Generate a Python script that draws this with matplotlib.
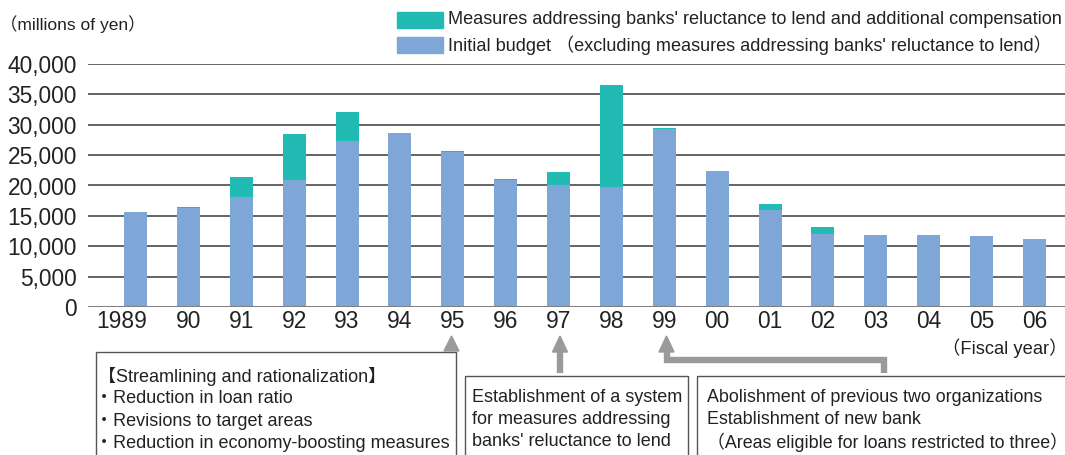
import matplotlib
matplotlib.use("Agg")
import matplotlib.pyplot as plt
from matplotlib.patches import Rectangle, Polygon
from matplotlib.lines import Line2D

# ---- data (millions of yen) ----
years = ["1989", "90", "91", "92", "93", "94", "95", "96", "97",
         "98", "99", "00", "01", "02", "03", "04", "05", "06"]
initial_budget = [15600, 16300, 18100, 20900, 27350, 28650, 25500, 20900, 20100,
                  19750, 29300, 22400, 15950, 12000, 11850, 11850, 11650, 11150]
reluctance = [0, 150, 3300, 7600, 4800, 0, 200, 150, 2150,
              16850, 200, 0, 1000, 1150, 0, 0, 0, 0]
yticks = [0, 5000, 10000, 15000, 20000, 25000, 30000, 35000, 40000]

label_teal = "Measures addressing banks' reluctance to lend and additional compensation"
label_blue = "Initial budget （excluding measures addressing banks' reluctance to lend）"

box1_lines = ["【Streamlining and rationalization】",
              "・Reduction in loan ratio",
              "・Revisions to target areas",
              "・Reduction in economy-boosting measures"]
box2_lines = ["Establishment of a system",
              "for measures addressing",
              "banks' reluctance to lend"]
box3_lines = ["Abolishment of previous two organizations",
              "Establishment of new bank",
              "（Areas eligible for loans restricted to three）"]

teal = "#22BBB4"
blue = "#7EA7D8"
arrow_grey = "#9A9A9C"
txt = "#222222"
FONT = ["Liberation Sans", "Noto Sans CJK JP", "DejaVu Sans"]
plt.rcParams["font.family"] = FONT

W, H = 1065, 455
fig = plt.figure(figsize=(W / 100, H / 100), dpi=100)


def px(x, y):
    # pixel coords (top-left origin) -> figure fraction
    return x / W, 1 - y / H


# axes placed so the gridlines span 64..307 px
ax = fig.add_axes([88 / W, 1 - 307 / H, (W - 88) / W, (307 - 64) / H])
x = list(range(len(years)))
ax.bar(x, initial_budget, width=0.435, color=blue, zorder=3)
ax.bar(x, reluctance, width=0.435, bottom=initial_budget, color=teal, zorder=3)

ax.set_ylim(0, 40000)
ax.set_xlim(-0.898, 17.577)
ax.set_yticks(yticks)
ax.set_yticklabels([f"{v:,}" for v in yticks], fontsize=16.4, color=txt)
ax.set_xticks(x)
ax.set_xticklabels([])
ax.tick_params(axis="both", length=0)
ax.tick_params(axis="y", pad=8)
for s in ax.spines.values():
    s.set_visible(False)
for v in yticks[1:]:
    ax.axhline(v, color="#3a3a3a", lw=1.1, zorder=1)
ax.axhline(0, color="#808080", lw=2.2, zorder=4)

# year labels; "1989" is shifted so that "89" sits under its bar
for i, lab in enumerate(years):
    dx = -14 if i == 0 else 0
    ax.annotate(lab, xy=(i, 0), xycoords=("data", "axes fraction"),
                xytext=(dx, -15), textcoords="offset pixels",
                ha="center", va="center", fontsize=16.4, color=txt)

# unit label and fiscal year
fig.text(*px(0, 24), "（millions of yen）", fontsize=12.5, color=txt,
         ha="left", va="center")
fig.text(*px(1067, 348), "（Fiscal year）", fontsize=13.2, color=txt,
         ha="right", va="center")

# legend
for (yc, col, lab) in [(20, teal, label_teal), (45, blue, label_blue)]:
    x0, y0 = px(397, yc + 8)
    fig.patches.append(Rectangle((x0, y0), 46 / W, 16 / H, color=col,
                                 transform=fig.transFigure))
    fig.text(*px(448, yc), lab, fontsize=13.1, color=txt,
             ha="left", va="center")

# annotation boxes
def box(x0, y0, x1, y1):
    a, b = px(x0, y1)
    fig.patches.append(Rectangle((a, b), (x1 - x0) / W, (y1 - y0) / H,
                                 fill=False, ec="#555555", lw=1.0,
                                 transform=fig.transFigure))


box(96, 352, 456, 470)
box(465, 376, 688, 470)
box(697, 376, 1075, 470)

for i, t in enumerate(box1_lines):
    fig.text(*px(98 if i == 0 else 95, 376 + i * 22.5), t, fontsize=13,
             color=txt, ha="left", va="center")
for i, t in enumerate(box2_lines):
    fig.text(*px(472, 397 + i * 22.5), t, fontsize=13, color=txt,
             ha="left", va="center")
for i, t in enumerate(box3_lines):
    fig.text(*px(707, 397 + i * 22.5), t, fontsize=12.9, color=txt,
             ha="left", va="center")

# arrows
def head(cx, tip, base):
    pts = [px(cx - 7.5, base), px(cx + 7.5, base), px(cx, tip)]
    fig.patches.append(Polygon(pts, closed=True, color=arrow_grey,
                               transform=fig.transFigure))


def shaft(points):
    xs = [px(a, b)[0] for a, b in points]
    ys = [px(a, b)[1] for a, b in points]
    fig.lines.append(Line2D(xs, ys, color=arrow_grey, lw=4.6,
                            solid_joinstyle="miter", solid_capstyle="butt",
                            transform=fig.transFigure))


head(451.5, 336, 351)
head(560, 336, 352)
shaft([(560, 351), (560, 373)])
head(666.5, 336, 352)
shaft([(666.5, 351), (666.5, 360), (884, 360), (884, 373)])

fig.savefig("out.png", dpi=100)
